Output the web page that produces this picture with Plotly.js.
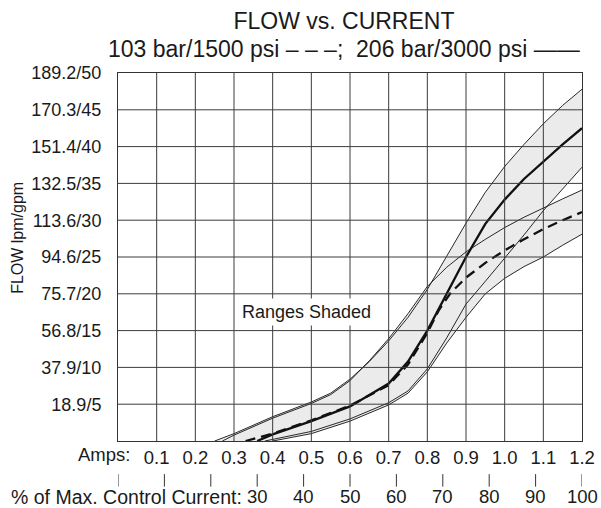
<!DOCTYPE html>
<html>
<head>
<meta charset="utf-8">
<script src="https://cdn.plot.ly/plotly-3.0.1.min.js"></script>
<style>html,body{margin:0;padding:0;background:#fff;}#chart{width:601px;height:508px;}</style>
</head>
<body>
<div id="chart"></div>
<script>
// ---- Data ----
// Amps (x) / FLOW in gpm (y)
// 206 bar / 3000 psi nominal curve (solid)
var solidX = [0.36, 0.40, 0.50, 0.60, 0.70, 0.75, 0.80, 0.85, 0.90, 0.95, 1.00, 1.05, 1.10, 1.15, 1.20];
var solidY = [0.0, 0.9, 2.7, 4.7, 7.8, 10.8, 15.0, 20.0, 25.0, 29.5, 32.8, 35.6, 38.0, 40.3, 42.5];
// 103 bar / 1500 psi nominal curve (dashed)
var dashX = [0.33, 0.40, 0.50, 0.60, 0.70, 0.75, 0.80, 0.83, 0.86, 0.90, 0.95, 1.00, 1.05, 1.10, 1.15, 1.20];
var dashY = [0.0, 1.0, 2.8, 4.8, 7.6, 10.4, 14.7, 17.8, 20.1, 22.2, 24.2, 25.9, 27.4, 28.8, 30.0, 31.1];
// 3000 psi range: upper and lower limits
var hiUpperX = [0.25, 0.30, 0.40, 0.50, 0.55, 0.60, 0.65, 0.70, 0.75, 0.80, 0.85, 0.90, 0.95, 1.00, 1.05, 1.10, 1.15, 1.20];
var hiUpperY = [0.0, 1.0, 3.3, 5.3, 6.5, 8.4, 10.8, 13.6, 16.8, 20.6, 25.1, 29.6, 33.8, 37.3, 40.3, 43.1, 45.6, 47.8];
var hiLowerX = [0.38, 0.50, 0.60, 0.70, 0.75, 0.80, 0.85, 0.90, 0.95, 1.00, 1.05, 1.10, 1.15, 1.20];
var hiLowerY = [0.0, 1.3, 3.0, 5.2, 6.8, 9.8, 14.0, 18.6, 21.7, 24.8, 28.0, 31.3, 34.3, 37.2];
// 1500 psi range: upper and lower limits
var loUpperX = [0.27, 0.30, 0.40, 0.50, 0.55, 0.60, 0.65, 0.70, 0.75, 0.80, 0.85, 0.90, 0.95, 1.00, 1.05, 1.10, 1.15, 1.20];
var loUpperY = [0.0, 0.8, 3.1, 5.1, 6.3, 8.2, 10.9, 13.9, 17.3, 21.0, 23.6, 25.7, 27.4, 29.0, 30.4, 31.7, 32.9, 34.1];
var loLowerX = [0.40, 0.50, 0.60, 0.70, 0.75, 0.80, 0.85, 0.90, 0.95, 1.00, 1.05, 1.10, 1.15, 1.20];
var loLowerY = [0.0, 1.0, 2.7, 4.9, 6.5, 9.4, 13.3, 16.8, 20.0, 22.1, 23.7, 25.0, 26.6, 28.1];

// Axis ticks
var ampsTicks = [0.1, 0.2, 0.3, 0.4, 0.5, 0.6, 0.7, 0.8, 0.9, 1.0, 1.1, 1.2];
var ampsLabels = ["0.1", "0.2", "0.3", "0.4", "0.5", "0.6", "0.7", "0.8", "0.9", "1.0", "1.1", "1.2"];
var flowTicks = [5, 10, 15, 20, 25, 30, 35, 40, 45, 50];
var flowLabels = ["18.9/5", "37.9/10", "56.8/15", "75.7/20", "94.6/25", "113.6/30", "132.5/35", "151.4/40", "170.3/45", "189.2/50"];
var pctTicks = [0, 10, 20, 30, 40, 50, 60, 70, 80, 90, 100];
var pctLabels = ["", "", "", "30", "40", "50", "60", "70", "80", "90", "100"];
var maxAmps = 1.2;   // 100 % of max. control current

// ---- Build figure ----
var FONT = "Liberation Sans, Arial, Helvetica, sans-serif";
var TXT = "#1a1a1a";
var SHADE = "#ebebeb";

function band(ux, uy, lx, ly) {
  return {
    x: ux.concat(lx.slice().reverse()),
    y: uy.concat(ly.slice().reverse()),
    mode: "lines", fill: "toself", fillcolor: SHADE,
    line: {width: 0, color: SHADE}, hoverinfo: "skip", showlegend: false
  };
}
function thin(x, y) {
  return {x: x, y: y, mode: "lines", line: {color: "#111", width: 0.9}, showlegend: false};
}

var traces = [
  band(hiUpperX, hiUpperY, hiLowerX, hiLowerY),
  band(loUpperX, loUpperY, loLowerX, loLowerY),
  thin(hiUpperX, hiUpperY), thin(hiLowerX, hiLowerY),
  thin(loUpperX, loUpperY), thin(loLowerX, loLowerY),
  {x: dashX, y: dashY, mode: "lines", name: "103 bar/1500 psi",
   line: {color: "#111", width: 2.3, dash: "10px,6px"}, showlegend: false},
  {x: solidX, y: solidY, mode: "lines", name: "206 bar/3000 psi",
   line: {color: "#111", width: 2.3}, showlegend: false}
];

var shapes = [];
// grid lines drawn above the shaded ranges
ampsTicks.forEach(function (v) {
  if (v < maxAmps) shapes.push({type: "line", xref: "x", yref: "y", x0: v, x1: v, y0: 0, y1: 50,
    layer: "above", line: {color: "#3c3c3c", width: 1}});
});
flowTicks.forEach(function (v) {
  if (v < 50) shapes.push({type: "line", xref: "x", yref: "y", x0: 0, x1: maxAmps, y0: v, y1: v,
    layer: "above", line: {color: "#3c3c3c", width: 1}});
});
// small tick marks for % of max. control current
pctTicks.forEach(function (p) {
  shapes.push({type: "line", xref: "x", yref: "paper", x0: p / 100 * maxAmps, x1: p / 100 * maxAmps,
    y0: -0.090, y1: -0.124, line: {color: "#333", width: 1}});
});

var annotations = [
  {text: "103 bar/1500 psi \u2013 \u2013 \u2013;  206 bar/3000 psi \u2014\u2014", xref: "paper", yref: "paper",
   x: 0.487, y: 1.066, xanchor: "center", yanchor: "middle", showarrow: false,
   font: {family: FONT, size: 23, color: TXT}},
  {text: "FLOW lpm/gpm", xref: "paper", yref: "paper", x: -0.2155, y: 0.552, textangle: -90,
   xanchor: "center", yanchor: "middle", showarrow: false, font: {family: FONT, size: 16, color: TXT}},
  {text: "Amps:", xref: "paper", yref: "paper", x: 0.030, y: -0.038, xanchor: "right", yanchor: "middle",
   showarrow: false, font: {family: FONT, size: 18.5, color: TXT}},
  {text: "% of Max. Control Current:", xref: "paper", yref: "paper", x: 0.272, y: -0.152,
   xanchor: "right", yanchor: "middle", showarrow: false, font: {family: FONT, size: 19.5, color: TXT}},
  {text: "Ranges Shaded", xref: "x", yref: "y", x: 0.487, y: 17.5, xanchor: "center", yanchor: "middle",
   showarrow: false, bgcolor: "#ffffff", borderpad: 3, font: {family: FONT, size: 18, color: TXT}}
];
pctTicks.forEach(function (p, i) {
  if (pctLabels[i]) annotations.push({text: pctLabels[i], xref: "x", yref: "paper", x: p / 100 * maxAmps,
    y: -0.152, xanchor: "center", yanchor: "middle", showarrow: false,
    font: {family: FONT, size: 18.5, color: TXT}});
});

var layout = {
  width: 601, height: 508,
  margin: {l: 118, r: 19, t: 73, b: 67, pad: 0},
  paper_bgcolor: "#ffffff", plot_bgcolor: "#ffffff",
  font: {family: FONT, size: 18, color: TXT},
  title: {text: "FLOW vs. CURRENT", xref: "paper", x: 0.487, xanchor: "center",
          yref: "container", y: 0.959, yanchor: "middle", font: {family: FONT, size: 23, color: TXT}},
  xaxis: {range: [0, maxAmps], tickvals: ampsTicks, ticktext: ampsLabels, showgrid: false, zeroline: false,
          showline: true, mirror: true, linecolor: "#333", linewidth: 1, ticks: "",
          tickfont: {family: FONT, size: 18.5, color: TXT}, fixedrange: true},
  yaxis: {range: [0, 50], tickvals: flowTicks, ticktext: flowLabels, showgrid: false, zeroline: false,
          showline: true, mirror: true, linecolor: "#333", linewidth: 1, ticks: "", ticklabelstandoff: 12,
          tickfont: {family: FONT, size: 18, color: TXT}, fixedrange: true},
  shapes: shapes,
  annotations: annotations,
  showlegend: false
};

Plotly.newPlot("chart", traces, layout, {displayModeBar: false, staticPlot: true});
</script>
</body>
</html>
